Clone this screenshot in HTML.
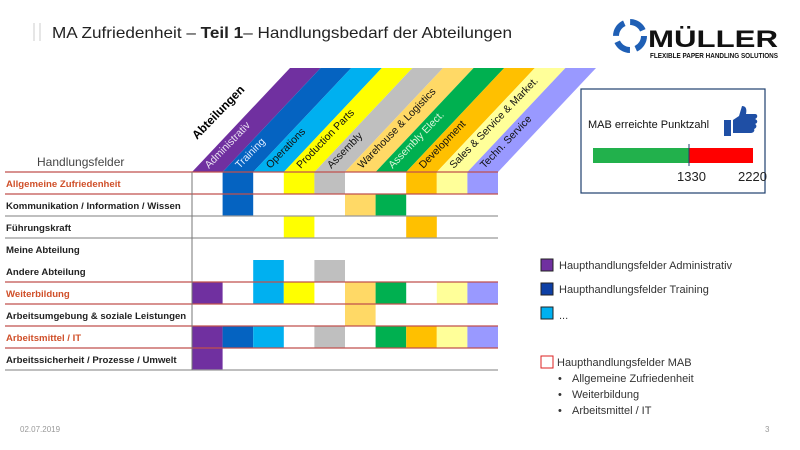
<!DOCTYPE html>
<html><head><meta charset="utf-8">
<style>
body{margin:0;width:800px;height:450px;background:#fff;overflow:hidden;font-family:"Liberation Sans",sans-serif;}
svg{display:block}
</style></head>
<body>
<svg width="800" height="450" viewBox="0 0 800 450" xmlns="http://www.w3.org/2000/svg">
<g>
<line x1="34" y1="23" x2="34" y2="41" stroke="#ccc" stroke-width="1"/>
<line x1="40" y1="23" x2="40" y2="41" stroke="#ccc" stroke-width="1"/>
<text x="52" y="38" font-size="16" fill="#222" textLength="460" lengthAdjust="spacingAndGlyphs">MA Zufriedenheit – <tspan font-weight="bold">Teil 1</tspan>– Handlungsbedarf der Abteilungen</text>
</g>
<g>
<circle cx="630" cy="36" r="14" fill="none" stroke="#1f5fb5" stroke-width="6" stroke-dasharray="16 6"/>
<text x="648" y="47" font-size="24" font-weight="bold" fill="#111" textLength="130" lengthAdjust="spacingAndGlyphs">MÜLLER</text>
<text x="650" y="58" font-size="7" font-weight="bold" fill="#111" textLength="128" lengthAdjust="spacingAndGlyphs">FLEXIBLE PAPER HANDLING SOLUTIONS</text>
</g>
<g id="bands"></g>
<text x="0" y="0" font-size="12" font-weight="bold" fill="#000" transform="translate(197,140) rotate(-46)">Abteilungen</text>
<text x="37" y="166" font-size="12" fill="#444">Handlungsfelder</text>
<g id="matrix"></g>
<g>
<rect x="581" y="89" width="184" height="104" fill="#fff" stroke="#1f3f6f" stroke-width="1.2"/>
<text x="588" y="128" font-size="11" fill="#111">MAB erreichte Punktzahl</text>
<path d="M724 120h7v16h-7z M733 120l6-4 3-10c4 0 5 3 4 8h9c3 0 3 4 0 5 3 1 3 4 0 5 2 1 2 4-1 5 1 1 0 4-3 4h-18z" fill="#1f4fa5"/>
<rect x="593" y="148" width="96" height="15" fill="#22b14c"/>
<rect x="689" y="148" width="64" height="15" fill="#ff0000"/>
<line x1="689" y1="144" x2="689" y2="166" stroke="#1f3f6f" stroke-width="1"/>
<text x="677" y="181" font-size="13" fill="#222">1330</text>
<text x="738" y="181" font-size="13" fill="#222">2220</text>
</g>
<g font-size="11" fill="#333">
<g><rect x="541" y="259" width="12" height="12" fill="#7030a0" stroke="#222"/><text x="559" y="269">Haupthandlungsfelder Administrativ</text></g>
<g><rect x="541" y="283" width="12" height="12" fill="#0d3fa5" stroke="#222"/><text x="559" y="293">Haupthandlungsfelder Training</text></g>
<g><rect x="541" y="307" width="12" height="12" fill="#00b0f0" stroke="#222"/><text x="559" y="319">...</text></g>
<g><rect x="541" y="356" width="12" height="12" fill="#fff" stroke="#d22"/><text x="557" y="366">Haupthandlungsfelder MAB</text></g>
<text x="558" y="382">•</text><text x="572" y="382">Allgemeine Zufriedenheit</text>
<text x="558" y="398">•</text><text x="572" y="398">Weiterbildung</text>
<text x="558" y="414">•</text><text x="572" y="414">Arbeitsmittel / IT</text>
</g>
<text x="20" y="432" font-size="8" fill="#999">02.07.2019</text>
<text x="765" y="432" font-size="8" fill="#999">3</text>
</svg>
<script>
const departments=["Administrativ","Training","Operations","Production Parts","Assembly","Warehouse & Logistics","Assembly Elect.","Development","Sales & Service & Market.","Techn. Service"];
const deptColors=["#7030a0","#0563c1","#00b0f0","#ffff00","#bfbfbf","#ffd966","#00b050","#ffc000","#ffff99","#9999ff"];
const deptTextColors=["#e8e0f0","#e0ecff","#111","#111","#111","#111","#d8f5d8","#111","#111","#111"];
const fields=["Allgemeine Zufriedenheit","Kommunikation / Information / Wissen","Führungskraft","Meine Abteilung","Andere Abteilung","Weiterbildung","Arbeitsumgebung & soziale Leistungen","Arbeitsmittel / IT","Arbeitssicherheit / Prozesse / Umwelt"];
const mabFields=[true,false,false,false,false,true,false,true,false];
const needs=[[1,3,4,7,8,9],[1,5,6],[3,7],[],[2,4],[0,2,3,5,6,8,9],[5],[0,1,2,4,6,7,8,9],[0]];
const NS="http://www.w3.org/2000/svg";
const x0=192,cw=30.6,y0=172,rh=22,bandTop=68,slant=98;
const bands=document.getElementById('bands');
departments.forEach((d,i)=>{
 const xl=x0+i*cw,xr=xl+cw;
 const p=document.createElementNS(NS,'polygon');
 p.setAttribute('points',`${xl},${y0} ${xr},${y0} ${xr+slant},${bandTop} ${xl+slant},${bandTop}`);
 p.setAttribute('fill',deptColors[i]);
 
 
 bands.appendChild(p);
 const t=document.createElementNS(NS,'text');
 t.textContent=d;
 t.setAttribute('font-size','10.5');
 t.setAttribute('fill',deptTextColors[i]);
 t.setAttribute('transform',`translate(${xl+17},${y0-3}) rotate(-46)`);
 
 
 bands.appendChild(t);
});
const m=document.getElementById('matrix');
const gridW=departments.length*cw;
needs.forEach((cols,r)=>{
 cols.forEach(c=>{
  const rc=document.createElementNS(NS,'rect');
  rc.setAttribute('x',x0+c*cw);rc.setAttribute('y',y0+r*rh);
  rc.setAttribute('width',cw);rc.setAttribute('height',rh);
  rc.setAttribute('fill',deptColors[c]);
  
  
  m.appendChild(rc);
 });
});
fields.forEach((f,r)=>{
 const t=document.createElementNS(NS,'text');
 t.textContent=f;
 t.setAttribute('x',6);t.setAttribute('y',y0+r*rh+15);
 t.setAttribute('font-size','9.6');t.setAttribute('font-weight','bold');
 t.setAttribute('fill',mabFields[r]?'#d0502a':'#222');
 
 
 m.appendChild(t);
});
for(let r=0;r<=fields.length;r++){
 if(r===4)continue;
 const red=(mabFields[r]||mabFields[r-1]);
 const l=document.createElementNS(NS,'line');
 l.setAttribute('x1',5);l.setAttribute('x2',x0+gridW);
 l.setAttribute('y1',y0+r*rh);l.setAttribute('y2',y0+r*rh);
 l.setAttribute('stroke',red?'#c0504d':'#999');l.setAttribute('stroke-width','1.3');
 
 
 m.appendChild(l);
}
const v=document.createElementNS(NS,'line');
v.setAttribute('x1',x0);v.setAttribute('x2',x0);v.setAttribute('y1',y0);v.setAttribute('y2',y0+fields.length*rh);
v.setAttribute('stroke','#777');


m.appendChild(v);
</script>
</body></html>
